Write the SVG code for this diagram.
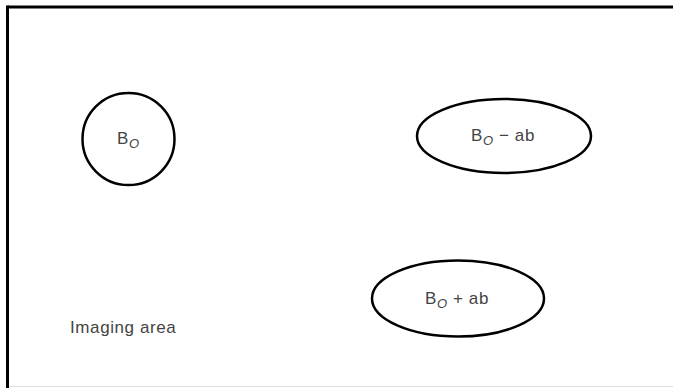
<svg xmlns="http://www.w3.org/2000/svg" width="673" height="388" viewBox="0 0 673 388">
<style>
.shape{fill:#fff;stroke:#000;stroke-width:2.5}
.lbl{font-family:"Liberation Sans",Arial,sans-serif;font-size:17px;fill:#444;letter-spacing:0.6px}
.sub{font-size:13px;font-style:italic}
</style>
<rect x="0" y="0" width="673" height="388" fill="#fff"/>
<g id="frame">
<line x1="7.5" y1="7" x2="673" y2="7" stroke="#000" stroke-width="3"/>
<line x1="7.5" y1="5.5" x2="7.5" y2="388" stroke="#000" stroke-width="3"/>
<line x1="9" y1="386.5" x2="673" y2="386.5" stroke="#ddd" stroke-width="1"/>
</g>
<g id="connectors"></g>
<g id="node-b0">
<ellipse class="shape" cx="128.5" cy="139" rx="46" ry="46"/>
<text class="lbl" x="117" y="144">B<tspan class="sub" dy="4">O</tspan></text>
</g>
<g id="node-b0-minus">
<ellipse class="shape" cx="504" cy="136" rx="87" ry="37"/>
<text class="lbl" x="471" y="141">B<tspan class="sub" dy="4">O</tspan><tspan dy="-4"> − ab</tspan></text>
</g>
<g id="node-b0-plus">
<ellipse class="shape" cx="458" cy="298.5" rx="86" ry="38"/>
<text class="lbl" x="425" y="304">B<tspan class="sub" dy="4">O</tspan><tspan dy="-4"> + ab</tspan></text>
</g>
<text id="imaging-area" class="lbl" x="70" y="333">Imaging area</text>
</svg>
